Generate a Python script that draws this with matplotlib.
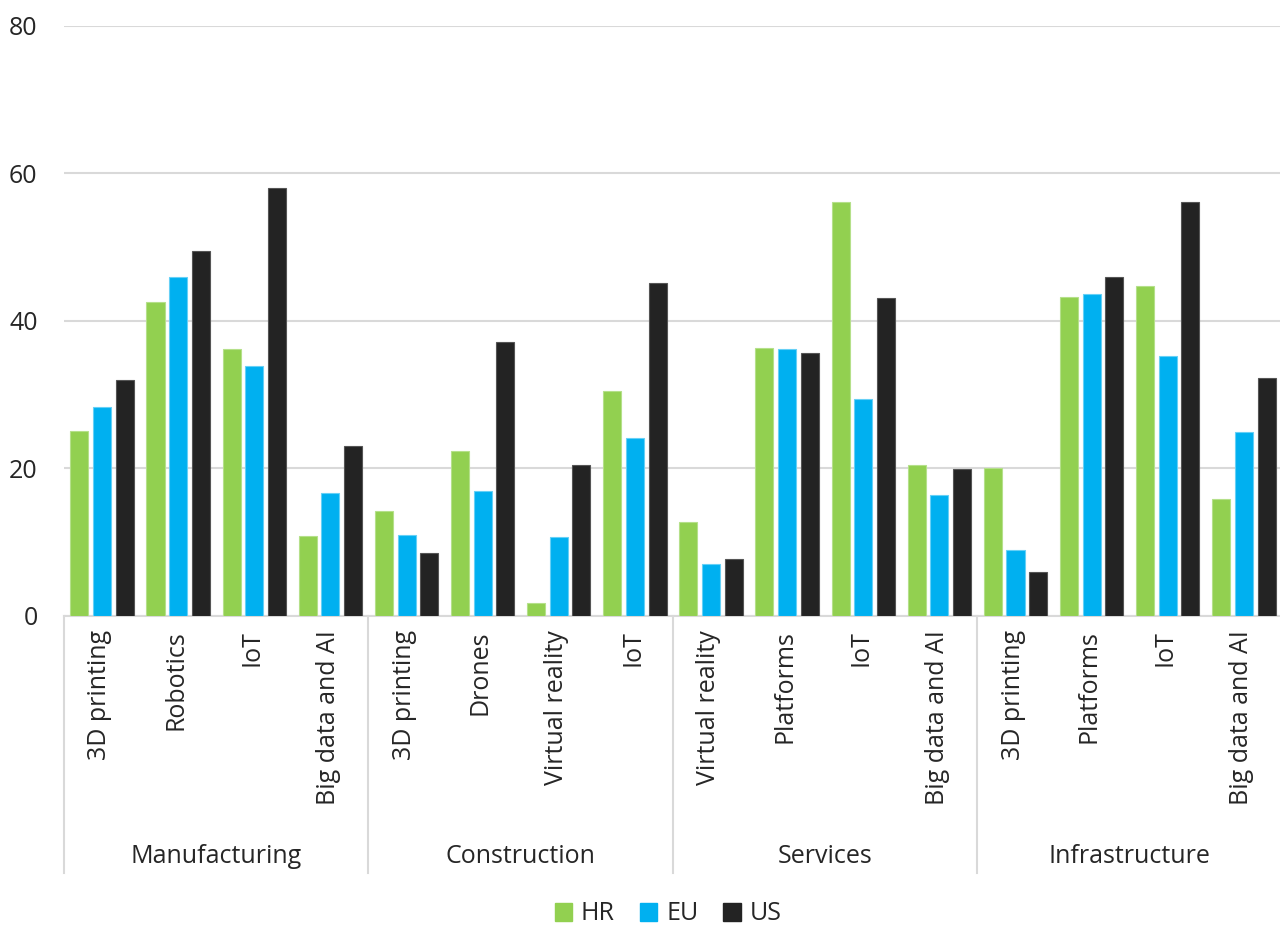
import matplotlib
matplotlib.use("Agg")
import matplotlib.pyplot as plt
import matplotlib.transforms as mtransforms
from matplotlib.patches import Patch
import numpy as np

plt.rcParams['font.family'] = ['Open Sans', 'DejaVu Sans']

groups = ["Manufacturing", "Construction", "Services", "Infrastructure"]
labels = ["3D printing", "Robotics", "IoT", "Big data and AI",
          "3D printing", "Drones", "Virtual reality", "IoT",
          "Virtual reality", "Platforms", "IoT", "Big data and AI",
          "3D printing", "Platforms", "IoT", "Big data and AI"]
hr = [25.1, 42.6, 36.2, 10.8, 14.3, 22.4, 1.7, 30.5,
      12.7, 36.3, 56.2, 20.5, 20.0, 43.3, 44.8, 15.8]
eu = [28.3, 46.0, 33.9, 16.7, 11.0, 16.9, 10.7, 24.1,
      7.1, 36.2, 29.4, 16.4, 8.9, 43.7, 35.3, 25.0]
us = [32.0, 49.5, 58.0, 23.0, 8.6, 37.1, 20.5, 45.2,
      7.7, 35.6, 43.1, 19.9, 5.9, 45.9, 56.2, 32.3]
series = {"HR": hr, "EU": eu, "US": us}
colors = {"HR": "#92D050", "EU": "#00B0F0", "US": "#232323"}
edges = {"HR": "#b5e08a", "EU": "#66d0f6", "US": "#555555"}
txt = "#262626"
grid = "#D9D9D9"
fs = 18

fig = plt.figure(figsize=(12.8, 9.25), dpi=100)
ax = fig.add_axes([0.05, 0.3341, 0.9515, 0.6378])

x = np.arange(len(labels))
step = 0.298
width = 0.237
for k, name in enumerate(series):
    ax.bar(x + (k - 1) * step, series[name], width, color=colors[name],
           edgecolor=edges[name], linewidth=0.8, zorder=3, label=name)

ax.set_xlim(-0.5, len(labels) - 0.5)
ax.set_ylim(0, 80)
ax.set_yticks([0, 20, 40, 60, 80])
ax.yaxis.grid(True, color=grid, linewidth=1.5, zorder=0)
ax.set_axisbelow(True)
for s in ["top", "right", "left"]:
    ax.spines[s].set_visible(False)
ax.spines["bottom"].set_color(grid)
ax.spines["bottom"].set_linewidth(1.5)
ax.tick_params(axis="y", length=0, pad=19, labelsize=fs, labelcolor=txt)
ax.set_xticks([])

trans = mtransforms.blended_transform_factory(ax.transData, ax.transAxes)
for i, lab in enumerate(labels):
    ax.text(i - 0.03, -0.024, lab, rotation=90, ha="center", va="top",
            fontsize=fs, color=txt, transform=trans)
for b in [-0.5, 3.5, 7.5, 11.5, 15.5]:
    ax.plot([b, b], [0, -0.436], color=grid, linewidth=1.5,
            transform=trans, clip_on=False)
for g, name in enumerate(groups):
    ax.text(g * 4 + 1.5, -0.408, name, ha="center", va="center",
            fontsize=fs, color=txt, transform=trans)

handles = [Patch(color=colors[n]) for n in series]
fig.legend(handles, list(series), loc="center", ncol=3,
           bbox_to_anchor=(0.522, 1 - 914 / 925), frameon=False,
           fontsize=fs, handlelength=0.7, handleheight=0.7,
           handletextpad=0.35, columnspacing=1.0, labelcolor=txt)

fig.savefig("out.png", dpi=100)
